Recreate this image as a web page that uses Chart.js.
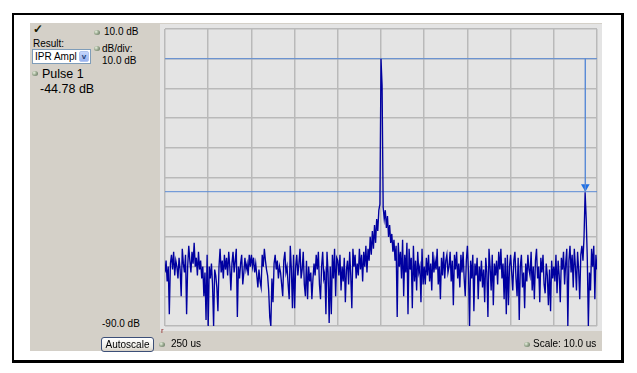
<!DOCTYPE html>
<html>
<head>
<meta charset="utf-8">
<script src="https://cdn.jsdelivr.net/npm/chart.js@4"></script>
<style>
  body { margin: 0; background: #fff; width: 637px; height: 373px; position: relative; overflow: hidden;
         font-family: "Liberation Sans", Arial, sans-serif; color: #000; }
  #frame { position: absolute; left: 12px; top: 13px; width: 607px; height: 345px; border: 2px solid #000;
           border-right-width: 3px; border-bottom-width: 3px; background: #fff; }
  #panel { position: absolute; left: 30px; top: 23px; width: 572px; height: 328px; background: #d4d0c8; }
  #plot { position: absolute; left: 160px; top: 24px; background: #e4e4e4; }
  .t { position: absolute; white-space: nowrap; font-size: 10px; line-height: 12px; }
  .dot { position: absolute; width: 6px; height: 5px; border-radius: 50%;
         background: radial-gradient(circle at 35% 35%, #e8f0e0 0, #9aaa90 45%, #5a6a58 100%); }
  #combo { position: absolute; left: 32px; top: 49px; width: 57px; height: 13px; background: #fff;
           border: 1px solid #7f9db9; }
  #combo span { position: absolute; left: 2px; top: 0; font-size: 10px; line-height: 13px; }
  #combo i { position: absolute; right: 1px; top: 1px; width: 10px; height: 11px; border-radius: 2px;
             background: linear-gradient(#c6d6fc, #98b2f0); border: 1px solid #b0c4f0; box-sizing: border-box;
             font-style: normal; font-size: 8px; line-height: 10px; text-align: center; color: #24427a; font-weight: bold; }
  #btn { position: absolute; left: 101px; top: 337px; width: 51px; height: 13px; border: 1px solid #3c4f78;
         border-radius: 3px; background: linear-gradient(#ffffff, #ecebe6 70%, #d6d0c5);
         font-size: 10px; line-height: 13px; text-align: center; }
</style>
</head>
<body>
<div id="frame"></div>
<div id="panel"></div>
<canvas id="plot" width="442" height="307"></canvas>

<div class="t" style="left:33px;top:22px;font-size:12px;line-height:14px;font-weight:bold;color:#1a1a00">✓</div>
<div class="dot" style="left:94px;top:30px"></div>
<div class="t" style="left:104px;top:26px">10.0 dB</div>
<div class="t" style="left:33px;top:38px">Result:</div>
<div id="combo"><span>IPR Ampl</span><i>v</i></div>
<div class="dot" style="left:94px;top:46px"></div>
<div class="t" style="left:102px;top:43px">dB/div:</div>
<div class="t" style="left:102px;top:55px">10.0 dB</div>
<div class="dot" style="left:32px;top:71px"></div>
<div class="t" style="left:42px;top:67px;font-size:12.5px;line-height:15px">Pulse 1</div>
<div class="t" style="left:40px;top:82px;font-size:12.5px;line-height:15px">-44.78 dB</div>
<div class="t" style="left:102px;top:318px">-90.0 dB</div>
<div class="t" style="left:161px;top:327px;font-size:8px;line-height:8px;color:#8b1a1a">r</div>
<div id="btn">Autoscale</div>
<div class="dot" style="left:159px;top:342px"></div>
<div class="t" style="left:171px;top:338px">250 us</div>
<div class="dot" style="left:524px;top:342px"></div>
<div class="t" style="left:533px;top:338px">Scale: 10.0 us</div>

<script>
// time axis (us) and level axis (dB)
const startTime = 250
const endTime = 350
const stepTime = 0.25
const timeTicks = [250, 260, 270, 280, 290, 300, 310, 320, 330, 340, 350]
const dbTicks = [10, 0, -10, -20, -30, -40, -50, -60, -70, -80, -90]

// trace amplitude, one array per 10 us division (dB)
const div1 = [-72,-68,-75,-70,-86,-69,-66,-71,-65,-73,-68,-70,-74,-67,-71,-80,-64,-69,-72,-66,-86,-70,-63,-68,-72,-65,-69,-62,-70,-67,-73,-65,-71,-68,-74,-70,-80,-72,-88,-66]
const div2 = [-90,-70,-74,-69,-76,-90,-71,-73,-77,-85,-70,-64,-72,-68,-74,-66,-71,-67,-73,-65,-70,-78,-69,-65,-72,-68,-64,-87,-70,-74,-69,-66,-76,-72,-67,-71,-69,-73,-66,-70]
const div3 = [-66,-70,-67,-72,-69,-73,-77,-71,-75,-77,-66,-70,-64,-68,-71,-73,-78,-87,-90,-74,-82,-69,-66,-71,-68,-74,-70,-72,-76,-80,-68,-65,-72,-70,-76,-81,-63,-71,-84,-66]
const div4 = [-84,-70,-66,-73,-69,-64,-74,-71,-65,-76,-80,-68,-81,-70,-75,-72,-81,-74,-69,-73,-66,-71,-65,-76,-81,-70,-65,-74,-72,-86,-65,-72,-89,-70,-86,-66,-74,-64,-80,-67]
const div5 = [-68,-73,-66,-78,-70,-75,-67,-82,-71,-68,-76,-65,-73,-84,-64,-70,-66,-74,-69,-73,-64,-71,-66,-75,-65,-70,-63,-72,-64,-68,-60,-66,-58,-64,-56,-62,-54,-58,-51,-49]
const div6 = [0,-9,-50,-54,-51,-57,-53,-60,-56,-62,-59,-65,-61,-68,-63,-87,-62,-70,-65,-74,-61,-80,-66,-72,-62,-86,-64,-71,-67,-84,-63,-75,-68,-78,-65,-72,-70,-82,-64,-76]
const div7 = [-70,-76,-67,-73,-66,-75,-69,-78,-65,-72,-68,-71,-64,-76,-70,-81,-67,-73,-65,-74,-68,-66,-72,-70,-65,-75,-68,-83,-66,-71,-65,-74,-69,-77,-66,-72,-65,-74,-80,-68]
const div8 = [-63,-72,-90,-68,-74,-66,-85,-69,-73,-67,-81,-70,-75,-68,-77,-71,-82,-67,-72,-87,-64,-70,-78,-66,-83,-69,-73,-68,-76,-65,-71,-64,-74,-69,-81,-67,-86,-66,-83,-70]
const div9 = [-66,-72,-78,-68,-65,-74,-80,-67,-88,-70,-66,-77,-72,-84,-69,-75,-66,-71,-73,-65,-78,-70,-81,-68,-64,-74,-70,-82,-67,-72,-66,-76,-79,-69,-73,-83,-71,-85,-68,-74]
const div10 = [-70,-75,-66,-79,-68,-73,-82,-67,-71,-65,-76,-69,-64,-90,-68,-63,-72,-66,-77,-64,-70,-78,-65,-71,-81,-66,-63,-68,-60,-45,-54,-67,-90,-72,-78,-64,-70,-63,-81,-66,-71]

// measurement markers
const refLevel = 0
const iprLevel = -44.78
const markerTime = 347.3

const amp = [].concat(div1, div2, div3, div4, div5, div6, div7, div8, div9, div10)
const trace = amp.map((v, i) => ({ x: startTime + i * stepTime, y: v }))

const markerBlue = '#5b8bd6'

new Chart(document.getElementById('plot'), {
  type: 'line',
  data: {
    datasets: [
      { data: trace, borderColor: '#0000a0', borderWidth: 1.35, pointRadius: 0, tension: 0 },
      { data: [{ x: startTime, y: refLevel }, { x: endTime, y: refLevel }], borderColor: markerBlue, borderWidth: 1, pointRadius: 0 },
      { data: [{ x: startTime, y: iprLevel }, { x: endTime, y: iprLevel }], borderColor: markerBlue, borderWidth: 1, pointRadius: 0 },
      { data: [{ x: markerTime, y: refLevel }, { x: markerTime, y: iprLevel }], borderColor: markerBlue, borderWidth: 1, pointRadius: 0 },
      { data: [{ x: markerTime, y: iprLevel + 1.7 }], showLine: false, pointStyle: 'triangle', rotation: 180,
        pointRadius: 5, backgroundColor: '#1c6fe6', borderColor: '#1c6fe6', borderWidth: 0 }
    ]
  },
  options: {
    responsive: false,
    animation: false,
    layout: { padding: 1 },
    plugins: { legend: { display: false }, tooltip: { enabled: false } },
    scales: {
      x: {
        type: 'linear', min: startTime, max: endTime,
        afterBuildTicks: s => { s.ticks = timeTicks.map(v => ({ value: v })) },
        ticks: { display: false },
        grid: { color: '#b9b9b9', lineWidth: 1.5, drawTicks: false },
        border: { display: false }
      },
      y: {
        min: -90, max: 10,
        afterBuildTicks: s => { s.ticks = dbTicks.map(v => ({ value: v })) },
        ticks: { display: false },
        grid: { color: '#b9b9b9', lineWidth: 1.5, drawTicks: false },
        border: { display: false }
      }
    }
  }
})
</script>
</body>
</html>
